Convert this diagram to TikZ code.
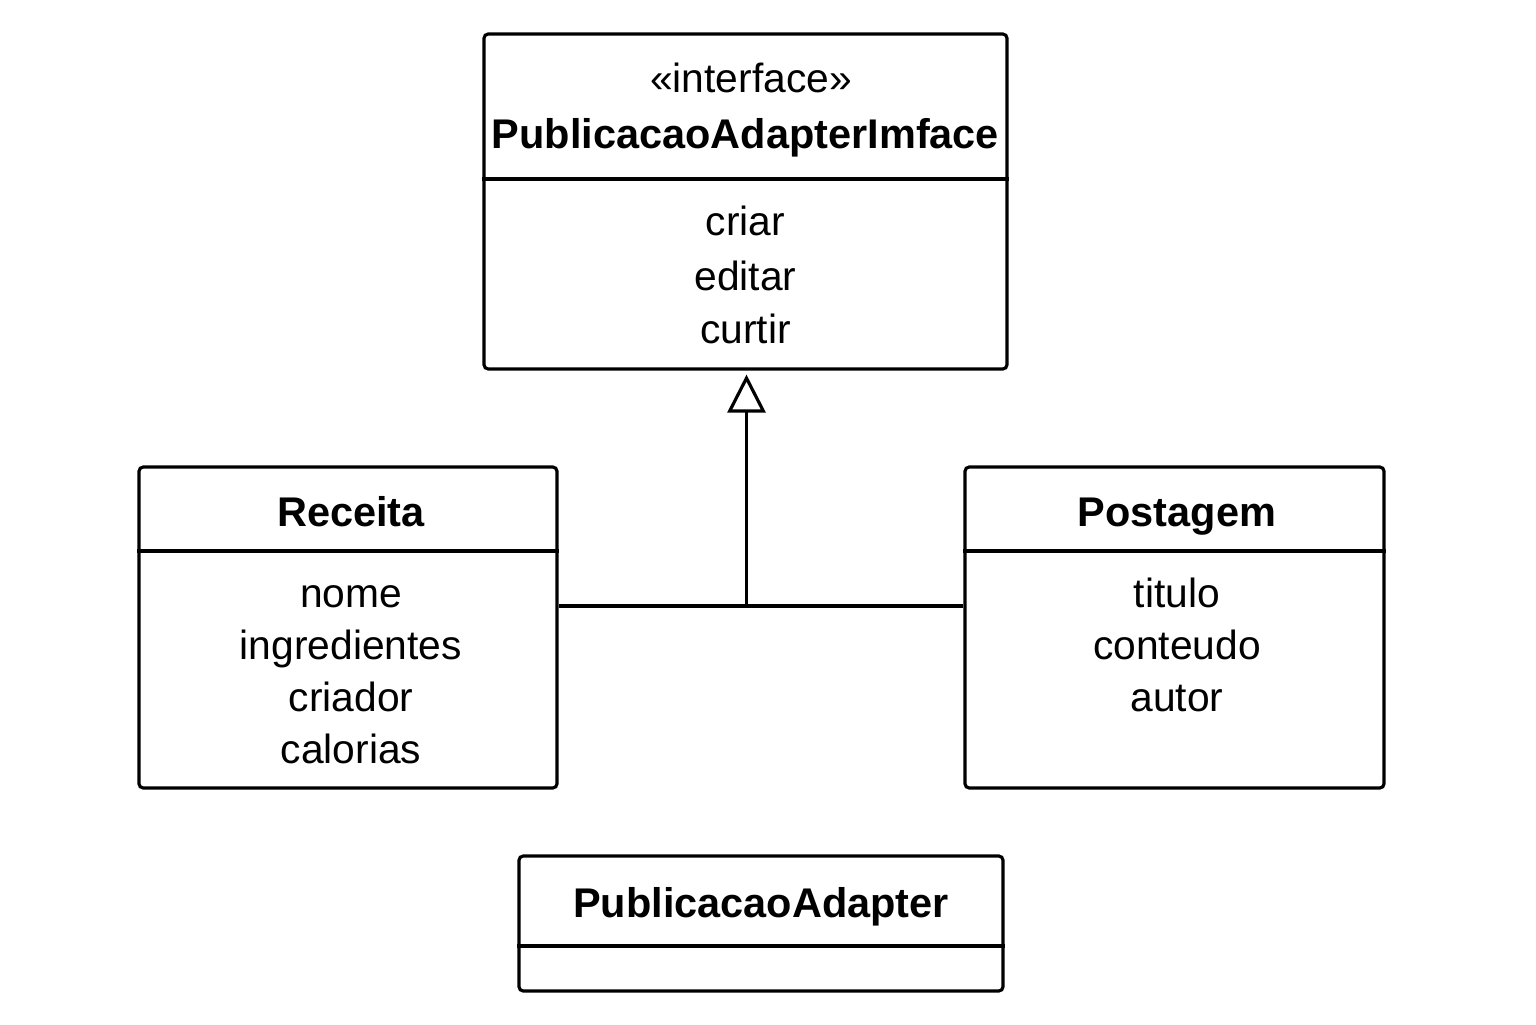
\documentclass[tikz,border=0pt]{standalone}
\usepackage{fontspec}
\setmainfont{Liberation Sans}
\usetikzlibrary{arrows.meta}

\begin{document}
\begin{tikzpicture}[line width=0.9pt,
  box/.style={draw, rounded corners=1.2pt, inner sep=0pt},
  txt/.style={inner sep=0pt, anchor=base, font=\fontsize{11.6}{14}\selectfont},
  title/.style={txt, font=\fontsize{11.8}{14}\selectfont\bfseries}]
  \useasboundingbox (0,0) rectangle (15.36,10.24);
  % classes
  \node[box, minimum width=5.23cm, minimum height=3.35cm] (iface) at (7.455, 8.225) {};
  \node[box, minimum width=4.18cm, minimum height=3.21cm] (receita) at (3.48, 3.965) {};
  \node[box, minimum width=4.19cm, minimum height=3.21cm] (postagem) at (11.745, 3.965) {};
  \node[box, minimum width=4.84cm, minimum height=1.35cm] (adapter) at (7.61, 1.005) {};
  % dividers
  \draw (iface.west |- 0,8.45) -- (iface.east |- 0,8.45);
  \draw (receita.west |- 0,4.73) -- (receita.east |- 0,4.73);
  \draw (postagem.west |- 0,4.73) -- (postagem.east |- 0,4.73);
  \draw (adapter.west |- 0,0.78) -- (adapter.east |- 0,0.78);
  % interface
  \node[txt] (stereo) at (7.51, 9.313) {«interface»};
  \node[title] (ifacename) at (7.455, 8.757) {PublicacaoAdapterImface};
  \node[txt] (criar) at (7.455, 7.89) {criar};
  \node[txt] (editar) at (7.455, 7.34) {editar};
  \node[txt] (curtir) at (7.455, 6.807) {curtir};
  % Receita
  \node[title] (receitaname) at (3.51, 4.973) {Receita};
  \node[txt] (nome) at (3.51, 4.17) {nome};
  \node[txt] (ingredientes) at (3.51, 3.65) {ingredientes};
  \node[txt] (criador) at (3.51, 3.13) {criador};
  \node[txt] (calorias) at (3.51, 2.61) {calorias};
  % Postagem
  \node[title] (postagemname) at (11.77, 4.973) {Postagem};
  \node[txt] (titulo) at (11.77, 4.17) {titulo};
  \node[txt] (conteudo) at (11.77, 3.65) {conteudo};
  \node[txt] (autor) at (11.77, 3.13) {autor};
  % PublicacaoAdapter
  \node[title] (adaptername) at (7.61, 1.07) {PublicacaoAdapter};
  % realization
  \coordinate (join) at (7.465, 4.18);
  \draw (receita.east |- join) -- (postagem.west |- join);
  \draw[-{Triangle[open, length=0.38cm, width=0.38cm]}] (join) -- ([yshift=-0.04cm]iface.south -| join);
\end{tikzpicture}
\end{document}
